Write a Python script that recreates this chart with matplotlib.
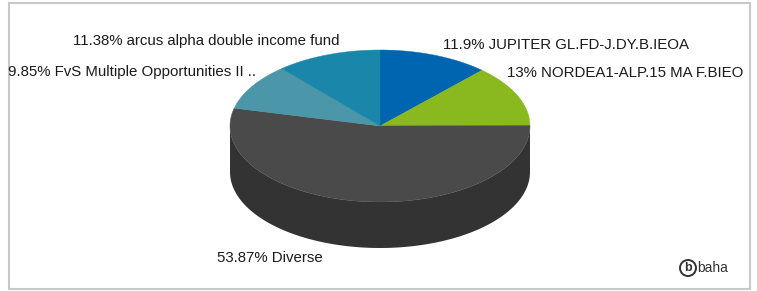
import numpy as np
import matplotlib
matplotlib.use("Agg")
import matplotlib.pyplot as plt
from matplotlib.patches import Polygon, Rectangle, Circle

labels = ["JUPITER GL.FD-J.DY.B.IEOA", "NORDEA1-ALP.15 MA F.BIEO", "Diverse",
          "FvS Multiple Opportunities II ..", "arcus alpha double income fund"]
shares = [11.9, 13.0, 53.87, 9.85, 11.38]
pct_text = ["11.9%", "13%", "53.87%", "9.85%", "11.38%"]
top_colors = ["#0065b1", "#89b91f", "#4a4a4a", "#4b96a8", "#1a86a9"]
side_colors = ["#004f8a", "#6a9015", "#333333", "#3a7584", "#146987"]

W, H = 757, 291
CX, CY, RX, RY, DEPTH = 380, 126, 150, 76, 46

fig = plt.figure(figsize=(W / 100, H / 100), dpi=100)
ax = fig.add_axes([0, 0, 1, 1])
ax.set_xlim(0, W)
ax.set_ylim(H, 0)
ax.axis("off")

# frame
ax.add_patch(Rectangle((8.5, 3), 741, 286, fill=False, ec="#c8c8c8", lw=1.5))


def pt(theta, dy=0):
    # theta: clockwise from 12 o'clock, degrees
    t = np.radians(theta)
    return CX + RX * np.sin(t), CY - RY * np.cos(t) + dy


bounds = np.concatenate([[0], np.cumsum(shares)]) / sum(shares) * 360

# side walls (front half: theta 90..270)
for i in range(len(shares)):
    a0, a1 = max(bounds[i], 90), min(bounds[i + 1], 270)
    if a1 <= a0:
        continue
    th = np.linspace(a0, a1, 100)
    top = [pt(t) for t in th]
    bot = [pt(t, DEPTH) for t in th[::-1]]
    ax.add_patch(Polygon(top + bot, closed=True, fc=side_colors[i], ec="none"))

# top faces
for i in range(len(shares)):
    th = np.linspace(bounds[i], bounds[i + 1], 120)
    verts = [(CX, CY)] + [pt(t) for t in th]
    ax.add_patch(Polygon(verts, closed=True, fc=top_colors[i], ec=top_colors[i], lw=0.3))

# labels
font = dict(fontsize=10.8, color="#1a1a1a", family="Liberation Sans", va="center")
label_pos = [(443, 45, "left"), (507, 73, "left"), (217, 258, "left"),
             (8, 72, "left"), (73, 41, "left")]
for (x, y, ha), p, lab in zip(label_pos, pct_text, labels):
    ax.text(x, y, f"{p} {lab}", ha=ha, **font)

# baha logo
ax.add_patch(Circle((688, 268), 8, fill=False, ec="#333333", lw=1.4))
ax.text(688, 268, "b", ha="center", va="center", fontsize=9, fontweight="bold",
        color="#333333", family="Liberation Sans")
ax.text(697, 268, "baha", ha="left", va="center", fontsize=10, color="#333333",
        family="Liberation Sans")

fig.savefig("out.png", dpi=100)
